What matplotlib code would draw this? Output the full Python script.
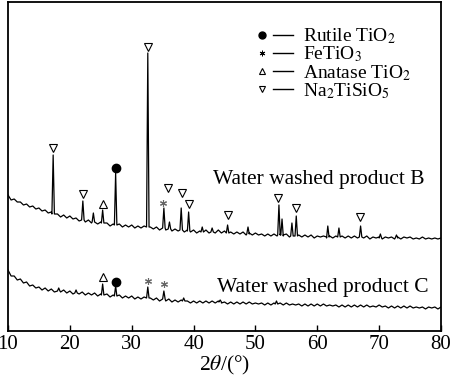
import numpy as np
import matplotlib.pyplot as plt
from matplotlib.lines import Line2D
from matplotlib.legend_handler import HandlerTuple

plt.rcParams['font.family'] = 'Liberation Serif'
plt.rcParams['mathtext.fontset'] = 'stix'

# 2theta grid of the background points
grid = np.arange(10, 80.01, 0.5)

# water washed product B, background (a.u.)
base_b = [136, 131, 132, 129, 129, 126, 127, 124, 125, 122, 123, 120, 121, 118, 119, 116,
          117, 114, 116, 113, 115, 112, 113, 110, 112, 109, 111, 108, 110, 107, 109, 106,
          108, 105, 107, 105, 107, 104, 106, 104, 106, 103, 105, 103, 105, 102, 104, 102,
          104, 101, 103, 101, 103, 100, 102, 100, 101, 99, 101, 99, 101, 98, 100, 99,
          101, 98, 100, 98, 101, 98, 100, 97, 99, 97, 99, 97, 99, 96, 98, 96,
          98, 96, 97, 95, 97, 95, 97, 95, 97, 95, 97, 94, 96, 94, 96, 94,
          96, 94, 96, 93, 95, 94, 95, 93, 95, 93, 95, 93, 95, 93, 95, 93,
          95, 93, 94, 93, 95, 92, 94, 93, 94, 92, 94, 93, 94, 92, 94, 92,
          94, 93, 94, 92, 93, 92, 94, 92, 93, 92, 93, 92, 93]
peak_pos_b = [17.3, 22.1, 23.8, 25.3, 27.4, 32.6, 35.2, 36.1, 38.0, 39.2, 41.4, 43.0,
              45.5, 48.8, 53.8, 54.3, 55.9, 56.6, 61.7, 63.5, 67.0, 70.2, 72.8]
peak_top_b = [176, 130, 118, 121, 158, 278, 123, 109, 123, 119, 104, 103,
              106, 104, 126, 112, 108, 115, 105, 103, 105, 97, 96]
peak_foot_b = [117, 111, 109, 108, 106, 104, 103, 102, 101, 100, 99, 99,
               98, 97, 96, 96, 95, 95, 94, 94, 94, 93, 93]

# water washed product C
base_c = [61, 55, 55, 51, 52, 48, 49, 45, 46, 43, 44, 41, 43, 40, 42, 39,
          42, 39, 41, 38, 40, 37, 40, 37, 39, 36, 38, 36, 38, 35, 37, 35,
          37, 34, 36, 34, 36, 33, 35, 33, 35, 32, 34, 32, 34, 31, 33, 31,
          33, 30, 32, 30, 32, 29, 31, 29, 31, 29, 30, 28, 30, 28, 30, 28,
          30, 28, 30, 28, 30, 28, 29, 27, 29, 27, 29, 27, 29, 27, 29, 27,
          28, 27, 28, 26, 28, 26, 28, 26, 28, 26, 28, 26, 27, 26, 27, 25,
          27, 25, 27, 25, 27, 25, 27, 25, 26, 25, 26, 24, 26, 24, 26, 24,
          26, 24, 26, 24, 26, 24, 25, 24, 26, 24, 25, 23, 25, 23, 25, 23,
          25, 23, 25, 23, 24, 23, 24, 22, 24, 23, 24, 22, 24]
peak_pos_c = [18.2, 21.0, 25.3, 27.4, 32.6, 35.2, 38.4, 44.3, 53.4]
peak_top_c = [43, 41, 47, 45, 44, 40, 33, 31, 30]
peak_foot_c = [40, 38, 36, 35, 33, 32, 30, 29, 27]

# phase markers (2theta, height)
na_x = [17.3, 22.1, 32.6, 35.8, 38.1, 39.2, 45.5, 53.7, 56.5, 66.9]
na_y = [183, 137, 284, 143, 138, 127, 116, 133, 123, 114]
rut_x = [27.4, 27.4]
rut_y = [163, 49]
ana_x = [25.3, 25.3]
ana_y = [127, 54]
fe_x = [35.1, 32.6, 35.2]
fe_y = [128, 50, 47]


def pattern(base, pos, top, foot, hw=0.2):
    keep = np.ones(len(grid), bool)
    for p in pos:
        keep &= np.abs(grid - p) > hw
    x = list(grid[keep])
    y = list(np.array(base)[keep])
    for p, t, f in zip(pos, top, foot):
        x += [p - hw, p, p + hw]
        y += [f, t, f]
    order = np.argsort(x)
    return np.array(x)[order], np.array(y)[order]


fig = plt.figure(figsize=(4.5, 3.8), dpi=100)
ax = fig.add_axes([8 / 450, 49 / 380, 433 / 450, 329 / 380])

xb, yb = pattern(base_b, peak_pos_b, peak_top_b, peak_foot_b)
xc, yc = pattern(base_c, peak_pos_c, peak_top_c, peak_foot_c)
ax.plot(xb, yb, color='black', lw=0.9)
ax.plot(xc, yc, color='black', lw=0.9)

ax.plot(na_x, na_y, ls='none', marker='v', ms=5.5, mfc='white', mec='black', mew=0.8)
ax.plot(rut_x, rut_y, ls='none', marker='o', ms=6, color='black')
ax.plot(ana_x, ana_y, ls='none', marker='^', ms=5.5, mfc='white', mec='black', mew=0.8)
ax.plot(fe_x, fe_y, ls='none', marker=(6, 2, 0), ms=5, color='0.4', mew=0.8)

ax.text(43.1, 147, 'Water washed product B', fontsize=15.5)
ax.text(43.8, 39, 'Water washed product C', fontsize=15.5)

# legend: marker followed by a short line
seg = Line2D([], [], color='black', lw=1)
h1 = (Line2D([], [], ls='none', marker='o', ms=5, color='black'), seg)
h2 = (Line2D([], [], ls='none', marker=(6, 2, 0), ms=4, color='black', mew=0.7), seg)
h3 = (Line2D([], [], ls='none', marker='^', ms=4.5, mfc='white', mec='black', mew=0.8), seg)
h4 = (Line2D([], [], ls='none', marker='v', ms=4.5, mfc='white', mec='black', mew=0.8), seg)
ax.legend([h1, h2, h3, h4],
          ['Rutile TiO$_2$', 'FeTiO$_3$', 'Anatase TiO$_2$', 'Na$_2$TiSiO$_5$'],
          handler_map={tuple: HandlerTuple(ndivide=2, pad=0.05)},
          loc='upper left', bbox_to_anchor=(0.542, 0.955), frameon=False,
          fontsize=14, handlelength=2.1, handletextpad=0.5, labelspacing=-0.08,
          borderpad=0)

ax.set_xlim(10, 80)
ax.set_ylim(0, 329)
ax.set_xticks(range(10, 81, 10))
ax.set_yticks([])
ax.tick_params(axis='x', direction='in', length=4, width=1, labelsize=15, pad=3)
for s in ax.spines.values():
    s.set_linewidth(1.3)
ax.set_xlabel('2$\\theta$/(°)', fontsize=15.5, labelpad=0)

fig.savefig('out.png', dpi=100)
